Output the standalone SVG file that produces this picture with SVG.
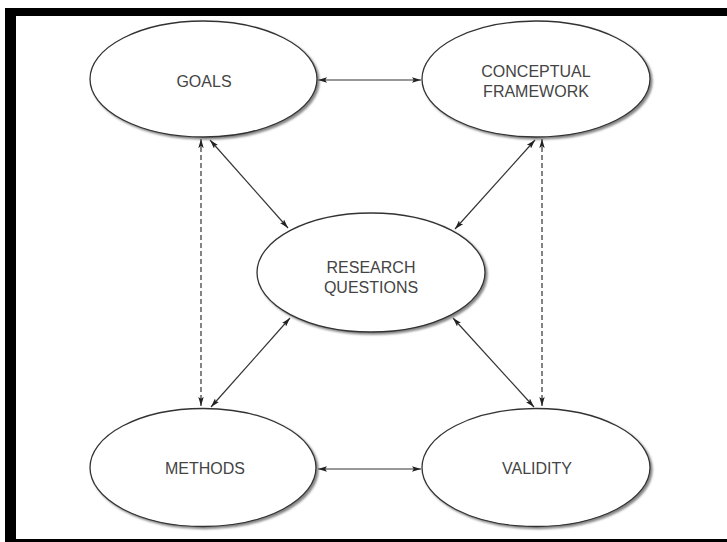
<svg xmlns="http://www.w3.org/2000/svg" width="727" height="542" viewBox="0 0 727 542">
<defs>
<style>
.node ellipse{fill:#fff;stroke:#333;stroke-width:1.3;filter:url(#sh)}
.node text{font-family:"Liberation Sans",Arial,sans-serif;font-size:16px;fill:#444;text-anchor:middle}
.conn line{stroke:#333;stroke-width:1.2;marker-start:url(#ah);marker-end:url(#ah)}
.conn .dash{stroke-dasharray:5 3}
</style>
<marker id="ah" viewBox="0 0 10 6" refX="10" refY="3" markerWidth="9" markerHeight="5.4" markerUnits="userSpaceOnUse" orient="auto-start-reverse">
<path d="M0,0 L10,3 L0,6 L2,3 z" fill="#222"/>
</marker>
<filter id="sh" x="-10%" y="-10%" width="125%" height="130%">
<feDropShadow dx="2" dy="2" stdDeviation="1.2" flood-color="#666" flood-opacity="0.8"/>
</filter>
</defs>
<rect x="0" y="0" width="727" height="542" fill="#fff"/>
<g id="frame" fill="#000">
<rect x="5" y="8" width="722" height="8"/>
<rect x="5" y="8" width="11" height="534"/>
<rect x="5" y="539" width="722" height="3"/>
</g>
<g id="connectors" class="conn">
<line x1="318" y1="80" x2="421" y2="80"/>
<line x1="318" y1="469" x2="421" y2="469"/>
<line class="dash" x1="201" y1="139" x2="201" y2="406"/>
<line class="dash" x1="542" y1="139" x2="542" y2="406"/>
<line x1="210" y1="140" x2="288" y2="228"/>
<line x1="535" y1="140" x2="455" y2="229"/>
<line x1="290" y1="318" x2="211" y2="407"/>
<line x1="453" y1="318" x2="534" y2="407"/>
</g>
<g id="goals" class="node">
<ellipse cx="203.5" cy="79" rx="113.5" ry="58"/>
<text x="204" y="87">GOALS</text>
</g>
<g id="conceptual-framework" class="node">
<ellipse cx="536" cy="79" rx="114" ry="58"/>
<text x="536" y="77">CONCEPTUAL</text>
<text x="536" y="97">FRAMEWORK</text>
</g>
<g id="research-questions" class="node">
<ellipse cx="371" cy="272.5" rx="114" ry="59.5"/>
<text x="371" y="273">RESEARCH</text>
<text x="371" y="293">QUESTIONS</text>
</g>
<g id="methods" class="node">
<ellipse cx="203" cy="467.5" rx="113" ry="59"/>
<text x="205" y="474">METHODS</text>
</g>
<g id="validity" class="node">
<ellipse cx="536" cy="467.5" rx="114" ry="59"/>
<text x="537" y="474">VALIDITY</text>
</g>
</svg>
